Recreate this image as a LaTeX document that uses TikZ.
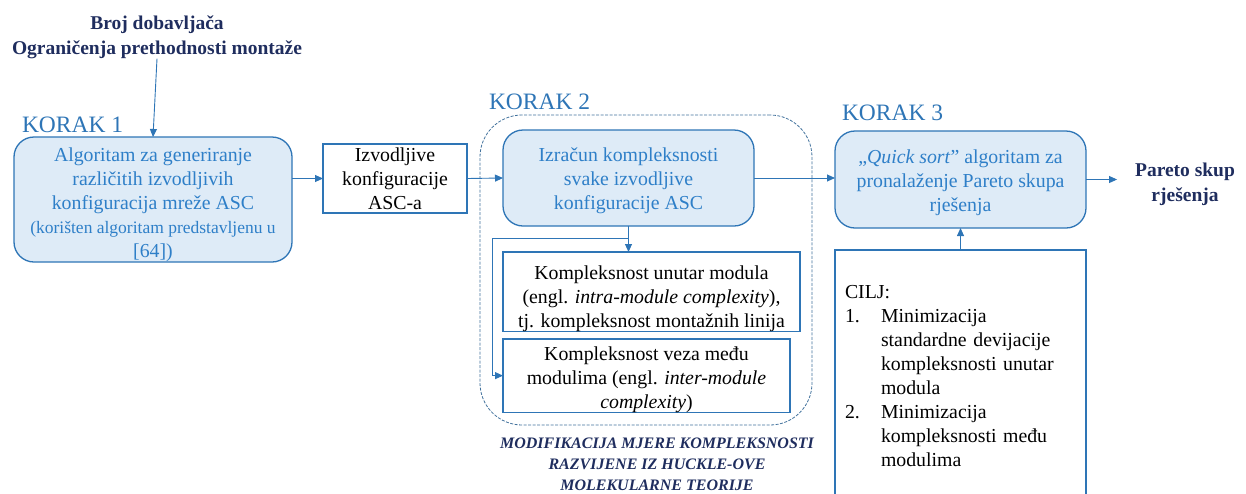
\documentclass[tikz,border=0pt]{standalone}
\usepackage{fontspec}
\setmainfont{Liberation Serif}
\usetikzlibrary{arrows.meta}
\definecolor{edgeblue}{HTML}{2E75B6}
\definecolor{fillblue}{HTML}{DEEBF7}
\definecolor{textblue}{HTML}{2E7FC8}
\definecolor{navy}{HTML}{1F2D5E}
\definecolor{dashblue}{HTML}{41719C}
% strut that lowers a centred block of lines inside its box
\newcommand\toppad[1]{\rule{0pt}{#1}}
\begin{document}
\begin{tikzpicture}[x=1pt,y=-1pt,
  every node/.style={inner sep=0pt,outer sep=0pt},
  body/.style={font=\fontsize{19.8}{24}\selectfont},
  roundbox/.style={draw=edgeblue,fill=fillblue,line width=1.3pt,rounded corners=20pt,
    text=textblue,align=center,body,anchor=north west},
  plainbox/.style={draw=edgeblue,fill=white,line width=1.3pt,align=center,body,anchor=north west},
  flow/.style={draw=edgeblue,line width=0.9pt,-{Triangle[length=8pt,width=7pt]}},
  link/.style={draw=edgeblue,line width=0.9pt},
  korak/.style={text=edgeblue,font=\fontsize{23.5}{28}\selectfont,anchor=west},
  heading/.style={text=navy,font=\fontsize{19.5}{25}\selectfont\bfseries,align=center},
  caption/.style={text=navy,font=\fontsize{16}{21}\selectfont\bfseries\itshape,align=center}]
\clip (0,0) rectangle (1246,493);

% inputs at the top
\node[heading] (inputs) at (157,37) {Broj dobavljača\\Ograničenja prethodnosti montaže};

% step 1
\node[korak] (k1) at (22,125) {KORAK 1};
\node[roundbox,minimum width=278pt,minimum height=125pt] (gen) at (14,137)
  {\toppad{24pt}Algoritam za generiranje\\različitih izvodljivih\\konfiguracija mreže ASC\\
   \fontsize{17.5}{20}\selectfont (korišten algoritam predstavljenu u\\{}[64])};

% feasible configurations
\node[plainbox,minimum width=144pt,minimum height=69pt] (cfg) at (323,144)
  {Izvodljive\\konfiguracije\\ASC-a};

% step 2
\node[korak] (k2) at (489,102) {KORAK 2};
\node[draw=dashblue,line width=0.8pt,dash pattern=on 3pt off 1.5pt,rounded corners=42pt,
  minimum width=332pt,minimum height=310pt,anchor=north west] (grp) at (480,115) {};
\node[roundbox,minimum width=251pt,minimum height=96pt] (calc) at (503,130)
  {\toppad{19pt}Izračun kompleksnosti\\svake izvodljive\\konfiguracije ASC};
\node[plainbox,minimum width=297pt,minimum height=68pt] (intra) at (503,252)
  {\toppad{27pt}Kompleksnost unutar modula\\(engl. \textit{intra-module complexity}),\\tj. kompleksnost montažnih linija};
\node[plainbox,minimum width=287pt,minimum height=68pt] (inter) at (503,339)
  {\toppad{21pt}Kompleksnost veza među\\modulima (engl. \textit{inter-module}\\\textit{complexity})};
\node[caption] (note) at (657,464)
  {MODIFIKACIJA MJERE KOMPLEKSNOSTI\\RAZVIJENE IZ HUCKLE-OVE\\MOLEKULARNE TEORIJE};

% step 3
\node[korak] (k3) at (842,113) {KORAK 3};
\node[roundbox,minimum width=251pt,minimum height=97pt] (quick) at (835,131)
  {\toppad{20pt}„\textit{Quick sort}” algoritam za\\pronalaženje Pareto skupa\\rješenja};
\node[heading,inner xsep=18pt] (pareto) at (1185,184) {Pareto skup\\rješenja};
\node[plainbox,minimum width=251pt,minimum height=255pt,text width=231pt,align=left,
  inner xsep=10pt] (goal) at (835,250)
  {\begin{tabular}{@{}p{36pt}@{}l@{}}
   \multicolumn{2}{@{}l@{}}{CILJ:}\\
   1. & Minimizacija\\
      & standardne devijacije\\
      & kompleksnosti unutar\\
      & modula\\
   2. & Minimizacija\\
      & kompleksnosti među\\
      & modulima
   \end{tabular}};

% connectors
\draw[flow] (inputs.south) -- (gen.north);
\draw[flow] (gen.east |- cfg.west) -- (cfg.west);
\draw[flow] (cfg.east) -- (calc.west);
\draw[flow] (calc.east) -- (calc.east -| quick.west);
\draw[flow] (quick.east) -- (quick.east -| pareto.west);
\draw[flow] (goal.north) -- (quick.south);
\coordinate (split) at (628.5,238);
\coordinate (bend) at (492,238);
\draw[link] (calc.south) -- (split);
\draw[flow] (split) -- (split |- intra.north);
\draw[flow] (split) -- (bend) |- (inter.west);
\end{tikzpicture}
\end{document}
